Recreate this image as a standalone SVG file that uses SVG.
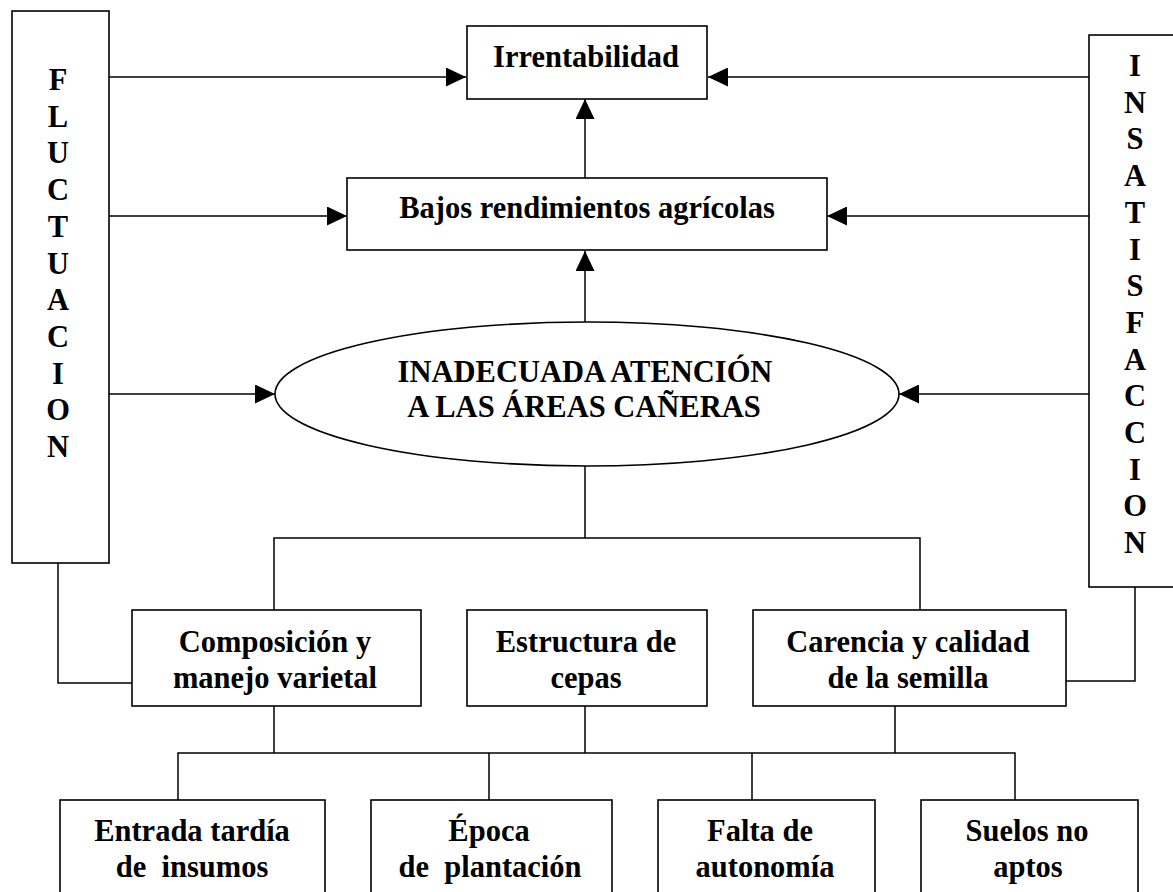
<svg xmlns="http://www.w3.org/2000/svg" width="1173" height="892" viewBox="0 0 1173 892">
<style>
.box{fill:#fff;stroke:#000;stroke-width:1.6}
.ln{fill:none;stroke:#000;stroke-width:1.5}
.t{font-family:"Liberation Serif","Times New Roman",serif;font-weight:bold;font-size:30.5px;fill:#000;text-anchor:middle}
</style>
<defs>
<marker id="ah" markerUnits="userSpaceOnUse" markerWidth="20" markerHeight="19" refX="20" refY="9.5" orient="auto">
<path d="M0,0 L20,9.5 L0,19 Z" fill="#000"/>
</marker>
</defs>
<rect width="1173" height="892" fill="#fff"/>
<g id="connectors">
<line class="ln" x1="109" y1="77" x2="466" y2="77" marker-end="url(#ah)"/>
<line class="ln" x1="1089" y1="77" x2="708" y2="77" marker-end="url(#ah)"/>
<line class="ln" x1="109" y1="216" x2="347" y2="216" marker-end="url(#ah)"/>
<line class="ln" x1="1089" y1="216" x2="827" y2="216" marker-end="url(#ah)"/>
<line class="ln" x1="109" y1="394" x2="275" y2="394" marker-end="url(#ah)"/>
<line class="ln" x1="1089" y1="394" x2="899" y2="394" marker-end="url(#ah)"/>
<line class="ln" x1="585" y1="178" x2="585" y2="99" marker-end="url(#ah)"/>
<line class="ln" x1="585" y1="322" x2="585" y2="251" marker-end="url(#ah)"/>
<path class="ln" d="M585,466 V538 M274,610 V538 H920 V610"/>
<path class="ln" d="M274,706 V753 M585,706 V753 M895,706 V753 M178,800 V753 H1015 V800 M489,753 V800 M752,753 V800"/>
<path class="ln" d="M58,563 V683 H132"/>
<path class="ln" d="M1135,587 V681 H1063"/>
</g>
<g id="fluctuacion">
<rect class="box" x="12" y="11" width="97" height="552"/>
<text class="t"><tspan x="58" y="90">F</tspan><tspan x="58" y="126.7">L</tspan><tspan x="58" y="163.4">U</tspan><tspan x="58" y="200.1">C</tspan><tspan x="58" y="236.8">T</tspan><tspan x="58" y="273.5">U</tspan><tspan x="58" y="310.2">A</tspan><tspan x="58" y="346.9">C</tspan><tspan x="58" y="383.6">I</tspan><tspan x="58" y="420.3">O</tspan><tspan x="58" y="457">N</tspan></text>
</g>
<g id="insatisfaccion">
<rect class="box" x="1089" y="35" width="96" height="552"/>
<text class="t"><tspan x="1135" y="76">I</tspan><tspan x="1135" y="112.7">N</tspan><tspan x="1135" y="149.4">S</tspan><tspan x="1135" y="186.1">A</tspan><tspan x="1135" y="222.8">T</tspan><tspan x="1135" y="259.5">I</tspan><tspan x="1135" y="296.2">S</tspan><tspan x="1135" y="332.9">F</tspan><tspan x="1135" y="369.6">A</tspan><tspan x="1135" y="406.3">C</tspan><tspan x="1135" y="443">C</tspan><tspan x="1135" y="479.7">I</tspan><tspan x="1135" y="516.4">O</tspan><tspan x="1135" y="553.1">N</tspan></text>
</g>
<g id="irrentabilidad">
<rect class="box" x="467" y="26" width="240" height="73"/>
<text class="t" x="586" y="67">Irrentabilidad</text>
</g>
<g id="bajos">
<rect class="box" x="347" y="178" width="480" height="72"/>
<text class="t" x="587" y="218">Bajos rendimientos agrícolas</text>
</g>
<g id="inadecuada">
<ellipse class="box" cx="587" cy="394" rx="312" ry="72"/>
<text class="t" x="585" y="382">INADECUADA ATENCIÓN</text>
<text class="t" x="584" y="417">A LAS ÁREAS CAÑERAS</text>
</g>
<g id="composicion">
<rect class="box" x="132" y="610" width="289" height="96"/>
<text class="t" x="275" y="652">Composición y</text>
<text class="t" x="275" y="688">manejo varietal</text>
</g>
<g id="estructura">
<rect class="box" x="467" y="610" width="240" height="96"/>
<text class="t" x="586" y="652">Estructura de</text>
<text class="t" x="586" y="688">cepas</text>
</g>
<g id="carencia">
<rect class="box" x="753" y="610" width="313" height="96"/>
<text class="t" x="908" y="652">Carencia y calidad</text>
<text class="t" x="908" y="688">de la semilla</text>
</g>
<g id="entrada">
<rect class="box" x="60" y="800" width="265" height="100"/>
<text class="t" x="192" y="841">Entrada tardía</text>
<text class="t" x="192" y="877" xml:space="preserve">de  insumos</text>
</g>
<g id="epoca">
<rect class="box" x="371" y="800" width="241" height="100"/>
<text class="t" x="489" y="841">Época</text>
<text class="t" x="490" y="877" xml:space="preserve">de  plantación</text>
</g>
<g id="falta">
<rect class="box" x="658" y="800" width="217" height="100"/>
<text class="t" x="760" y="841">Falta de</text>
<text class="t" x="765" y="877">autonomía</text>
</g>
<g id="suelos">
<rect class="box" x="921" y="800" width="217" height="100"/>
<text class="t" x="1027" y="841">Suelos no</text>
<text class="t" x="1028" y="877">aptos</text>
</g>
</svg>
